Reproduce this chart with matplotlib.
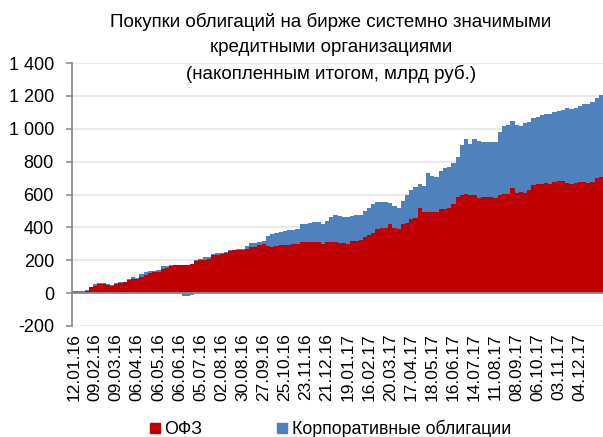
import numpy as np
import matplotlib
matplotlib.use("Agg")
import matplotlib.pyplot as plt
from matplotlib.ticker import FuncFormatter, MultipleLocator
from matplotlib.lines import Line2D

# ---- data (billion RUB, cumulative; one point ~ every 4 trading days) ----
tick_labels = ["12.01.16", "09.02.16", "09.03.16", "06.04.16", "06.05.16", "06.06.16",
               "05.07.16", "02.08.16", "30.08.16", "27.09.16", "25.10.16", "23.11.16",
               "21.12.16", "19.01.17", "16.02.17", "20.03.17", "17.04.17", "18.05.17",
               "16.06.17", "14.07.17", "11.08.17", "08.09.17", "06.10.17", "03.11.17",
               "04.12.17"]

ofz = [8, 8, 8, 15, 35, 45, 55, 55, 50, 42,
       58, 62, 69, 80, 83, 85, 99, 113, 122, 127,
       128, 148, 150, 165, 170, 170, 172, 172, 175, 194,
       200, 200, 205, 230, 232, 235, 245, 255, 260, 262,
       262, 270, 281, 282, 290, 300, 285, 283, 287, 290,
       295, 295, 297, 300, 308, 311, 311, 312, 310, 300,
       310, 311, 310, 305, 302, 300, 315, 320, 322, 340,
       355, 368, 390, 396, 398, 420, 395, 392, 422, 425,
       450, 455, 517, 493, 493, 493, 493, 510, 513, 520,
       544, 584, 600, 604, 595, 595, 580, 585, 584, 584,
       580, 600, 604, 604, 638, 612, 614, 612, 630, 660,
       665, 665, 668, 665, 678, 680, 680, 670, 662, 670,
       675, 678, 672, 678, 700, 705]

corp = [4, 4, 2, 3, 3, 10, 7, 7, 8, 6,
        2, 4, -5, 4, 15, 7, 19, 17, 13, 10,
        12, 17, 18, 7, 2, -5, -15, -18, -12, 10,
        5, 20, 17, 10, 13, 10, 5, 7, 4, 4,
        6, 15, 24, 20, 20, 20, 60, 77, 78, 80,
        83, 87, 88, 90, 112, 111, 117, 120, 125, 122,
        130, 151, 168, 165, 160, 162, 155, 158, 156, 157,
        165, 177, 165, 160, 154, 128, 135, 126, 138, 175,
        175, 190, 148, 157, 237, 222, 212, 230, 247, 245,
        246, 246, 300, 331, 310, 340, 345, 335, 334, 334,
        340, 380, 411, 416, 412, 413, 404, 423, 410, 405,
        405, 420, 422, 425, 422, 425, 432, 458, 456, 455,
        465, 472, 476, 482, 485, 500]

series_names = ["ОФЗ", "Корпоративные облигации"]
title = "Покупки облигаций на бирже системно значимыми\nкредитными организациями\n(накопленным итогом, млрд руб.)"

RED = "#C00000"
BLUE = "#4F81BD"
GRID = "#E6E6E6"
AXC = "#8C8C8C"

plt.rcParams['font.family'] = ['Liberation Sans', 'DejaVu Sans']

fig = plt.figure(figsize=(6.03, 4.37), dpi=100)
ax = fig.add_axes([72/603, (437-326)/437, 531/603, 263/437])

n = len(ofz)
edges = np.arange(n + 1) - 0.5
ofz_a = np.array(ofz, dtype=float)
corp_a = np.array(corp, dtype=float)
corp_lo = np.where(corp_a >= 0, ofz_a, 0.0)
corp_hi = np.where(corp_a >= 0, ofz_a + corp_a, corp_a)

ax.stairs(ofz_a, edges, baseline=0, fill=True, color=RED, linewidth=0, zorder=2)
ax.stairs(corp_hi, edges, baseline=corp_lo, fill=True, color=BLUE, linewidth=0, zorder=2)

ax.set_xlim(-0.5, n - 0.5)
ax.set_ylim(-200, 1400)
ax.yaxis.set_major_locator(MultipleLocator(200))
ax.yaxis.set_major_formatter(FuncFormatter(lambda v, p: f"{int(round(v)):,}".replace(",", " ")))
ax.grid(axis='y', color=GRID, linewidth=1.2, zorder=0)
ax.set_axisbelow(True)
ax.axhline(0, color=AXC, linewidth=1.3, zorder=3)

ax.set_xticks(np.arange(0, n, 5)[:len(tick_labels)])
ax.set_xticklabels(tick_labels, rotation=90, fontsize=12.5)
ax.tick_params(axis='x', length=0, pad=5)
ax.tick_params(axis='y', length=4, width=1.2, color=AXC, pad=9, labelsize=13, direction='out')

for s in ['top', 'right', 'bottom']:
    ax.spines[s].set_visible(False)
ax.spines['left'].set_color(AXC)
ax.spines['left'].set_linewidth(1.3)
ax.spines['left'].set_zorder(4)

fig.text(0.549, 0.972, title, ha='center', va='top', fontsize=13.5, linespacing=1.62)

handles = [Line2D([], [], marker='s', linestyle='none', markersize=7.5,
                  markerfacecolor=c, markeredgecolor=c) for c in (RED, BLUE)]
fig.legend(handles, series_names, loc='lower center', bbox_to_anchor=(0.545, -0.04),
           ncol=2, frameon=False, fontsize=12.8, handletextpad=0.05,
           columnspacing=4.0, handlelength=1.0)

fig.savefig("out.png", dpi=100)
